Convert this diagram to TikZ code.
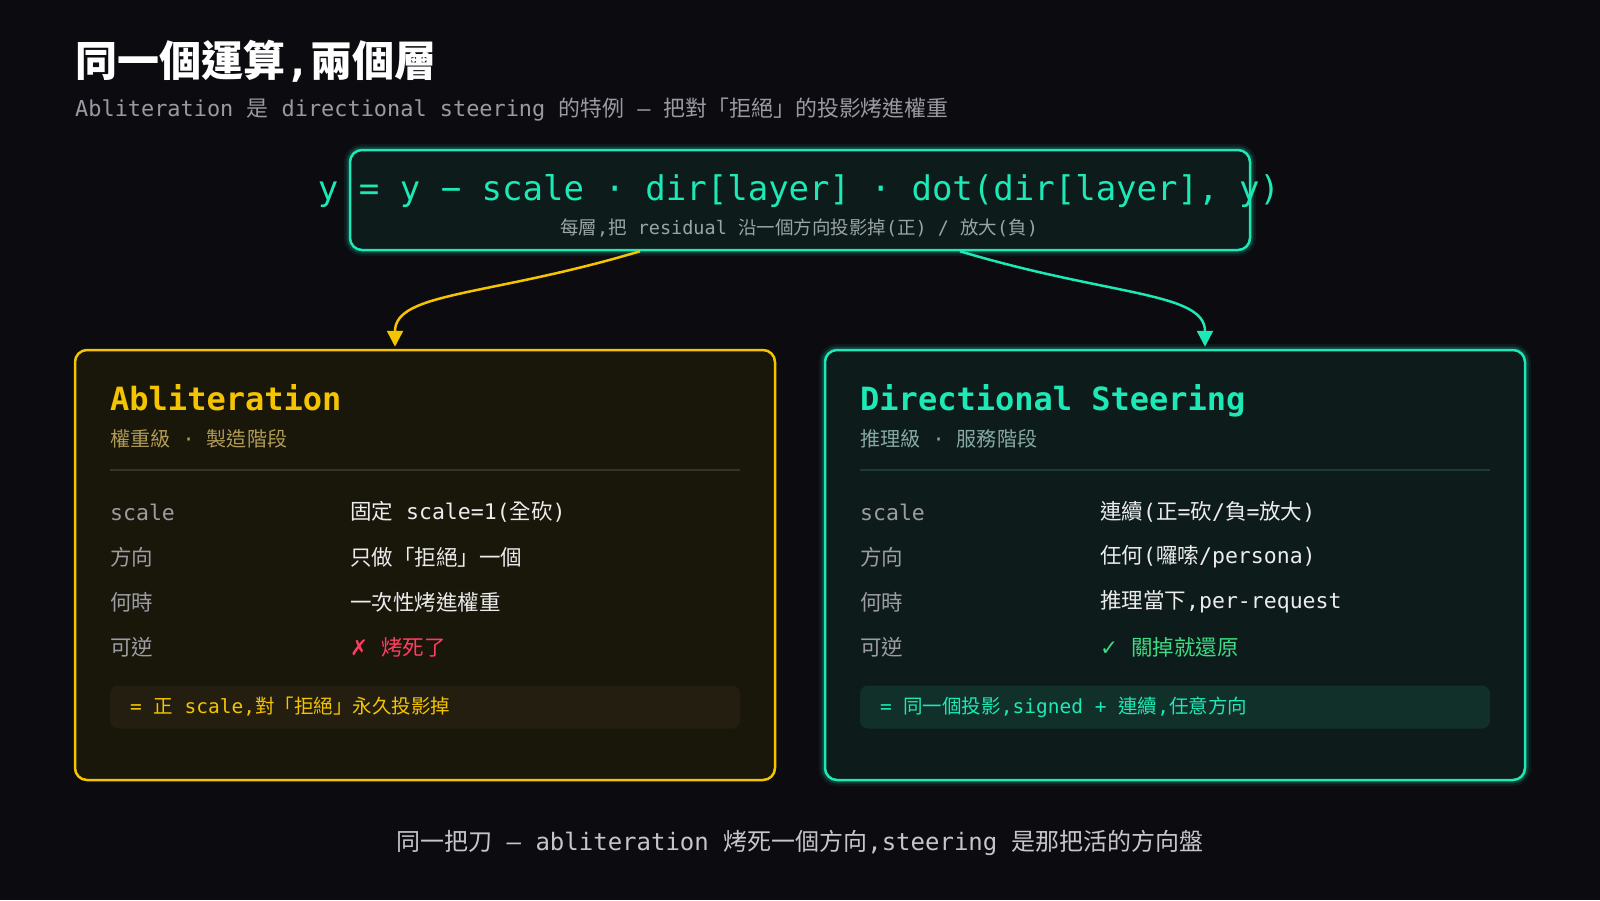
\documentclass[tikz,border=0pt]{standalone}
\usepackage{fontspec}
\usepackage{xcolor}
\usepackage{tikz}
\usetikzlibrary{arrows.meta,calc}

\setmainfont{DejaVu Sans Mono}
\newfontfamily\cjk{Noto Sans CJK TC}
\newfontfamily\sym{DejaVu Sans}
\newcommand\zh[1]{{\cjk #1}}

\definecolor{bg}{HTML}{0B0B10}
\definecolor{gold}{HTML}{F5C400}
\definecolor{goldsub}{HTML}{B09A55}
\definecolor{goldfill}{HTML}{19160A}
\definecolor{goldpill}{HTML}{231E10}
\definecolor{goldline}{HTML}{3A3322}
\definecolor{teal}{HTML}{1DE9B6}
\definecolor{tealsub}{HTML}{86A8A2}
\definecolor{tealfill}{HTML}{0D1B1B}
\definecolor{tealpill}{HTML}{11302A}
\definecolor{tealline}{HTML}{1F3A35}
\definecolor{labelgrey}{HTML}{9C9CA2}
\definecolor{valuewhite}{HTML}{ECECEC}
\definecolor{subgrey}{HTML}{9A9AA2}
\definecolor{notegrey}{HTML}{9AA5A3}
\definecolor{footgrey}{HTML}{C6C6CA}
\definecolor{badred}{HTML}{FF3D63}
\definecolor{goodgreen}{HTML}{3DDC84}

\tikzset{
  glow/.style={preaction={draw=#1, line width=12pt, draw opacity=0.08},
               preaction={draw=#1, line width=7pt, draw opacity=0.18}},
  card/.style={draw=#1, line width=2.5pt, rounded corners=12pt,
               minimum width=700pt, minimum height=430pt},
  pill/.style={rounded corners=8pt, minimum width=630pt, minimum height=43pt,
               inner xsep=20pt, font=\fontsize{19.5}{24}\selectfont},
  title/.style={anchor=west, inner sep=0pt, text=white,
                font=\fontsize{42}{50}\selectfont\bfseries},
  subtitle/.style={anchor=west, inner sep=0pt, text=subgrey,
                   font=\fontsize{21.9}{26}\selectfont},
  cardtitle/.style={anchor=base west, inner sep=0pt, text=#1,
                    font=\fontsize{32}{38}\selectfont\bfseries},
  cardsub/.style={anchor=west, inner sep=0pt, text=#1,
                  font=\fontsize{20.1}{24}\selectfont},
  rowlabel/.style={anchor=west, inner sep=0pt, text=labelgrey,
                   font=\fontsize{21.5}{26}\selectfont},
  rowvalue/.style={anchor=west, inner sep=0pt, text=valuewhite,
                   font=\fontsize{21.5}{26}\selectfont},
  flow/.style={draw=#1, line width=2.5pt,
               -{Triangle[length=16pt,width=16pt,fill=#1]}},
}

\begin{document}
\begin{tikzpicture}[x=1pt,y=-1pt]
  \useasboundingbox (0,0) rectangle (1600,900);
  \fill[bg] (0,0) rectangle (1600,900);

  % heading
  \node[title] (head) at (75,61) {\zh{同一個運算},\zh{兩個層}};
  \node[subtitle] (headsub) at (75,110)
    {Abliteration \zh{是} directional steering \zh{的特例} — \zh{把對「拒絕」的投影烤進權重}};

  % the shared formula
  \node[draw=teal, fill=tealfill, line width=2.5pt, rounded corners=12pt,
        minimum width=900pt, minimum height=100pt, glow=teal] (formula) at (800,200) {};
  \node[text=teal, font=\fontsize{34}{40}\selectfont] (eq) at (799,191)
    {y = y − scale · dir[layer] · dot(dir[layer], y)};
  \node[text=notegrey, font=\fontsize{18.5}{22}\selectfont] (eqnote) at (799,228)
    {\zh{每層},\zh{把} residual \zh{沿一個方向投影掉}(\zh{正}) / \zh{放大}(\zh{負})};

  % two cards
  \node[card=gold, fill=goldfill] (abl) at (425,565) {};
  \node[card=teal, fill=tealfill, glow=teal] (steer) at (1175,565) {};

  \draw[flow=gold] ($(formula.south)+(-160,0)$) .. controls +(-150,45) and +(0,-55) .. ($(abl.north)+(-30,-2)$);
  \draw[flow=teal] ($(formula.south)+(160,0)$) .. controls +(150,45) and +(0,-55) .. ($(steer.north)+(30,-2)$);

  % left card: abliteration
  \node[cardtitle=gold] (abltitle) at (110,410) {Abliteration};
  \node[cardsub=goldsub] (ablsub) at (110,439) {\zh{權重級}\ ·\ \zh{製造階段}};
  \draw[goldline, line width=1.5pt] (110,470) -- (740,470);
  \node[rowlabel] (ablk1) at (110,512) {scale};
  \node[rowlabel] (ablk2) at (110,557) {\zh{方向}};
  \node[rowlabel] (ablk3) at (110,602) {\zh{何時}};
  \node[rowlabel] (ablk4) at (110,647) {\zh{可逆}};
  \node[rowvalue] (ablv1) at (350,512) {\zh{固定} scale=1(\zh{全砍})};
  \node[rowvalue] (ablv2) at (350,557) {\zh{只做「拒絕」一個}};
  \node[rowvalue] (ablv3) at (350,602) {\zh{一次性烤進權重}};
  \node[rowvalue, text=badred] (ablv4) at (350,647) {{\sym ✗} \zh{烤死了}};
  \node[pill, fill=goldpill, text=gold] (ablnote) at (425,707)
    {\makebox[590pt][l]{= \zh{正} scale,\zh{對「拒絕」永久投影掉}}};

  % right card: steering
  \node[cardtitle=teal] (steertitle) at (860,410) {Directional Steering};
  \node[cardsub=tealsub] (steersub) at (860,439) {\zh{推理級}\ ·\ \zh{服務階段}};
  \draw[tealline, line width=1.5pt] (860,470) -- (1490,470);
  \node[rowlabel] (steerk1) at (860,512) {scale};
  \node[rowlabel] (steerk2) at (860,557) {\zh{方向}};
  \node[rowlabel] (steerk3) at (860,602) {\zh{何時}};
  \node[rowlabel] (steerk4) at (860,647) {\zh{可逆}};
  \node[rowvalue] (steerv1) at (1100,512) {\zh{連續}(\zh{正}=\zh{砍}/\zh{負}=\zh{放大})};
  \node[rowvalue] (steerv2) at (1100,557) {\zh{任何}(\zh{囉嗦}/persona)};
  \node[rowvalue] (steerv3) at (1100,602) {\zh{推理當下},per-request};
  \node[rowvalue, text=goodgreen] (steerv4) at (1100,647) {{\sym ✓} \zh{關掉就還原}};
  \node[pill, fill=tealpill, text=teal] (steernote) at (1175,707)
    {\makebox[590pt][l]{= \zh{同一個投影},signed + \zh{連續},\zh{任意方向}}};

  % closing line
  \node[text=footgrey, font=\fontsize{24}{29}\selectfont] (foot) at (800,843)
    {\zh{同一把刀} — abliteration \zh{烤死一個方向},steering \zh{是那把活的方向盤}};
\end{tikzpicture}
\end{document}
